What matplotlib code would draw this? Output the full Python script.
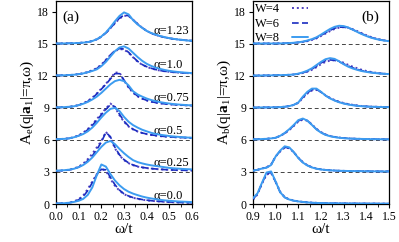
import numpy as np
import matplotlib
matplotlib.use("Agg")
import matplotlib.pyplot as plt
from matplotlib.ticker import MultipleLocator, FormatStrFormatter

plt.rcParams['font.family'] = ['Liberation Serif', 'DejaVu Serif']
plt.rcParams['mathtext.fontset'] = 'custom'
plt.rcParams['mathtext.rm'] = 'Liberation Serif'
plt.rcParams['mathtext.it'] = 'Liberation Serif:italic'
plt.rcParams['mathtext.bf'] = 'Liberation Serif:bold'

# ---------------- data ----------------
omega_a = np.round(np.arange(0.0, 0.6001, 0.02), 3)
omega_b = np.round(np.arange(0.9, 1.5001, 0.02), 3)
alphas = ["0.0", "0.25", "0.5", "0.75", "1.0", "1.23"]
offsets = [0, 3, 6, 9, 12, 15]
legend_labels = ["W=4", "W=6", "W=8"]

# panel (a): A_e, one row per alpha
a_w8 = [
    [0.05,0.06,0.08,0.12,0.2,0.3,0.48,0.85,1.55,2.7,3.7,3.5,2.8,2.2,1.75,1.4,1.15,0.97,0.83,0.7,0.6,0.52,0.45,0.39,0.34,0.3,0.27,0.24,0.22,0.2,0.18],
    [0.12,0.14,0.17,0.22,0.3,0.45,0.65,0.95,1.35,1.85,2.35,2.75,2.9,2.6,2.15,1.75,1.4,1.1,0.92,0.8,0.7,0.62,0.56,0.5,0.44,0.38,0.34,0.31,0.28,0.26,0.24],
    [0.06,0.08,0.1,0.15,0.25,0.38,0.55,0.8,1.15,1.6,2.1,2.55,2.9,3.0,2.7,2.15,1.7,1.38,1.15,0.95,0.8,0.66,0.56,0.48,0.42,0.36,0.32,0.28,0.25,0.22,0.2],
    [0.04,0.05,0.07,0.1,0.15,0.25,0.38,0.55,0.78,1.05,1.4,1.8,2.2,2.5,2.62,2.5,2.1,1.55,1.25,1.05,0.87,0.73,0.62,0.53,0.46,0.4,0.35,0.31,0.28,0.25,0.23],
    [0.03,0.04,0.05,0.07,0.1,0.15,0.22,0.33,0.45,0.6,0.9,1.3,1.8,2.3,2.65,2.75,2.55,2.15,1.75,1.4,1.12,0.92,0.76,0.64,0.54,0.46,0.4,0.35,0.31,0.28,0.25],
    [0.02,0.02,0.03,0.04,0.05,0.07,0.1,0.15,0.25,0.42,0.68,1.05,1.55,2.1,2.6,2.93,2.75,2.2,1.8,1.48,1.2,1.0,0.85,0.72,0.61,0.52,0.45,0.39,0.34,0.3,0.27],
]
a_w6 = [
    [0.05,0.06,0.08,0.12,0.22,0.4,0.7,1.25,2.0,2.75,3.25,3.2,2.5,1.8,1.3,0.95,0.75,0.6,0.5,0.42,0.36,0.31,0.27,0.24,0.21,0.19,0.17,0.15,0.14,0.13,0.12],
    [0.1,0.12,0.15,0.2,0.3,0.45,0.7,1.05,1.5,2.1,2.8,3.7,3.3,2.3,1.6,1.15,0.85,0.65,0.52,0.43,0.37,0.32,0.28,0.25,0.22,0.2,0.18,0.17,0.16,0.15,0.14],
    [0.06,0.08,0.1,0.15,0.25,0.4,0.62,0.95,1.35,1.85,2.35,2.85,3.3,3.1,2.4,1.75,1.3,1.0,0.8,0.65,0.55,0.47,0.41,0.36,0.32,0.29,0.26,0.24,0.22,0.2,0.19],
    [0.04,0.05,0.07,0.1,0.15,0.25,0.4,0.6,0.9,1.3,1.75,2.2,2.7,3.2,3.2,2.6,1.95,1.45,1.1,0.87,0.7,0.58,0.49,0.42,0.37,0.33,0.3,0.27,0.25,0.23,0.21],
    [0.03,0.04,0.05,0.07,0.1,0.15,0.22,0.33,0.48,0.68,1.0,1.45,1.95,2.35,2.55,2.5,2.2,1.75,1.35,1.05,0.85,0.7,0.58,0.49,0.42,0.37,0.33,0.3,0.27,0.25,0.23],
    [0.02,0.02,0.03,0.04,0.05,0.07,0.1,0.15,0.24,0.4,0.65,1.0,1.45,1.95,2.4,2.68,2.62,2.25,1.85,1.5,1.2,0.98,0.82,0.69,0.59,0.51,0.44,0.39,0.35,0.31,0.28],
]
a_w4 = [
    [0.05,0.06,0.08,0.13,0.25,0.45,0.8,1.4,2.1,2.8,3.3,3.1,2.35,1.7,1.25,0.92,0.72,0.58,0.48,0.4,0.34,0.3,0.26,0.23,0.2,0.18,0.16,0.15,0.14,0.13,0.12],
    [0.1,0.12,0.16,0.22,0.33,0.5,0.78,1.2,1.7,2.3,2.9,3.75,3.2,2.2,1.55,1.1,0.82,0.63,0.5,0.42,0.36,0.31,0.27,0.24,0.22,0.2,0.18,0.17,0.16,0.15,0.14],
    [0.06,0.08,0.11,0.16,0.27,0.43,0.68,1.02,1.45,1.95,2.45,2.95,3.4,3.05,2.3,1.68,1.25,0.97,0.78,0.64,0.54,0.46,0.4,0.35,0.31,0.28,0.25,0.23,0.21,0.2,0.18],
    [0.04,0.05,0.07,0.1,0.16,0.27,0.43,0.65,0.95,1.35,1.8,2.25,2.75,3.3,3.3,2.55,1.9,1.4,1.07,0.85,0.69,0.57,0.48,0.42,0.37,0.33,0.3,0.27,0.25,0.23,0.21],
    [0.03,0.04,0.05,0.07,0.1,0.16,0.24,0.36,0.52,0.72,1.05,1.5,1.95,2.3,2.5,2.45,2.15,1.72,1.32,1.03,0.83,0.69,0.57,0.48,0.42,0.37,0.33,0.3,0.27,0.25,0.23],
    [0.02,0.02,0.03,0.04,0.05,0.08,0.11,0.16,0.26,0.42,0.67,1.02,1.45,1.92,2.35,2.62,2.6,2.25,1.85,1.5,1.2,0.98,0.82,0.69,0.59,0.51,0.44,0.39,0.35,0.31,0.28],
]

# panel (b): A_b, one row per alpha
b_w8 = [
    [0.55,1.0,2.0,2.95,3.05,2.1,1.1,0.62,0.42,0.31,0.24,0.19,0.15,0.12,0.1,0.09,0.08,0.07,0.065,0.06,0.055,0.05,0.05,0.045,0.045,0.04,0.04,0.035,0.035,0.03,0.03],
    [0.12,0.2,0.32,0.4,0.65,1.45,2.0,2.4,2.3,1.85,1.3,0.88,0.6,0.42,0.3,0.23,0.18,0.15,0.13,0.11,0.1,0.09,0.08,0.075,0.07,0.065,0.06,0.055,0.05,0.05,0.05],
    [0.05,0.06,0.08,0.1,0.14,0.2,0.38,0.65,1.0,1.4,1.85,2.0,1.8,1.4,0.98,0.68,0.47,0.34,0.26,0.2,0.16,0.13,0.11,0.1,0.09,0.08,0.07,0.065,0.06,0.055,0.05],
    [0.03,0.03,0.04,0.04,0.05,0.05,0.07,0.1,0.16,0.28,0.5,1.05,1.5,1.8,1.8,1.5,1.15,0.88,0.68,0.52,0.4,0.31,0.24,0.19,0.15,0.12,0.1,0.09,0.08,0.07,0.06],
    [0.02,0.02,0.03,0.03,0.04,0.05,0.06,0.07,0.09,0.12,0.2,0.32,0.48,0.7,1.0,1.3,1.55,1.65,1.58,1.35,1.08,0.85,0.68,0.55,0.44,0.36,0.3,0.25,0.21,0.18,0.16],
    [0.02,0.02,0.02,0.02,0.02,0.02,0.03,0.04,0.06,0.09,0.13,0.2,0.3,0.43,0.6,0.85,1.12,1.38,1.58,1.68,1.65,1.52,1.32,1.1,0.9,0.72,0.57,0.45,0.36,0.29,0.24],
]
b_w6 = [
    [0.45,0.95,1.95,2.85,2.95,2.05,1.1,0.62,0.42,0.31,0.24,0.19,0.15,0.12,0.1,0.09,0.08,0.07,0.065,0.06,0.055,0.05,0.05,0.045,0.045,0.04,0.04,0.035,0.035,0.03,0.03],
    [0.12,0.2,0.32,0.42,0.68,1.45,1.95,2.3,2.25,1.85,1.32,0.9,0.62,0.43,0.31,0.24,0.19,0.15,0.13,0.11,0.1,0.09,0.08,0.075,0.07,0.065,0.06,0.055,0.05,0.05,0.05],
    [0.05,0.06,0.08,0.1,0.14,0.2,0.38,0.62,0.95,1.35,1.78,1.95,1.8,1.42,1.0,0.7,0.49,0.36,0.27,0.21,0.17,0.14,0.12,0.1,0.09,0.08,0.07,0.065,0.06,0.055,0.05],
    [0.03,0.03,0.04,0.04,0.05,0.05,0.07,0.1,0.16,0.28,0.48,0.98,1.4,1.7,1.72,1.48,1.15,0.9,0.7,0.54,0.42,0.33,0.26,0.2,0.16,0.13,0.11,0.1,0.09,0.08,0.07],
    [0.02,0.02,0.03,0.03,0.04,0.05,0.06,0.07,0.09,0.12,0.18,0.28,0.42,0.62,0.9,1.2,1.42,1.48,1.45,1.32,1.12,0.92,0.75,0.6,0.48,0.39,0.32,0.26,0.22,0.19,0.16],
    [0.02,0.02,0.02,0.02,0.02,0.02,0.03,0.04,0.06,0.08,0.12,0.18,0.27,0.39,0.55,0.78,1.02,1.25,1.45,1.55,1.55,1.48,1.32,1.12,0.93,0.76,0.6,0.48,0.38,0.3,0.25],
]
b_w4 = [
    [0.4,0.9,1.9,2.75,2.9,2.1,1.15,0.65,0.43,0.32,0.25,0.2,0.16,0.13,0.11,0.09,0.08,0.07,0.065,0.06,0.055,0.05,0.05,0.045,0.045,0.04,0.04,0.035,0.035,0.03,0.03],
    [0.12,0.2,0.33,0.43,0.7,1.45,1.92,2.28,2.22,1.85,1.33,0.92,0.63,0.44,0.32,0.24,0.19,0.15,0.13,0.11,0.1,0.09,0.08,0.075,0.07,0.065,0.06,0.055,0.05,0.05,0.05],
    [0.05,0.06,0.08,0.1,0.14,0.2,0.38,0.6,0.92,1.3,1.72,1.9,1.8,1.45,1.04,0.73,0.51,0.37,0.28,0.22,0.17,0.14,0.12,0.1,0.09,0.08,0.07,0.065,0.06,0.055,0.05],
    [0.03,0.03,0.04,0.04,0.05,0.05,0.07,0.1,0.16,0.27,0.46,0.92,1.33,1.62,1.68,1.48,1.18,0.93,0.73,0.57,0.45,0.35,0.28,0.22,0.17,0.14,0.12,0.1,0.09,0.08,0.07],
    [0.02,0.02,0.03,0.03,0.04,0.05,0.06,0.07,0.09,0.12,0.17,0.26,0.38,0.56,0.8,1.08,1.3,1.42,1.45,1.38,1.22,1.02,0.85,0.7,0.56,0.45,0.36,0.29,0.23,0.19,0.16],
    [0.02,0.02,0.02,0.02,0.02,0.02,0.03,0.04,0.05,0.07,0.11,0.16,0.24,0.35,0.5,0.72,0.95,1.18,1.38,1.5,1.55,1.5,1.36,1.18,0.98,0.8,0.63,0.5,0.39,0.31,0.25],
]

# ---------------- styles ----------------
c_w4 = '#5040c0'
c_w6 = '#1a2cc0'
c_w8 = '#3c9cf0'
styles = [
    dict(color=c_w4, ls=(0, (1, 1.5)), lw=1.4),
    dict(color=c_w6, ls=(0, (4, 2)), lw=1.2),
    dict(color=c_w8, ls='-', lw=1.4),
]
label_raise = [0.75, 0.8, 0.85, 0.95, 1.05, 1.2]

fig = plt.figure(figsize=(3.99, 2.42), dpi=100)
ax_a = fig.add_axes([0.1404, 0.157, 0.3409, 0.839])
ax_b = fig.add_axes([0.634, 0.157, 0.3409, 0.839])

def draw(ax, omega, series, xlim, xmajor):
    for off in offsets[1:]:
        ax.axhline(off, color='#444444', ls=(0, (4, 3)), lw=0.7, zorder=1)
    handles = []
    for si, data in enumerate(series):
        for k, row in enumerate(data):
            h, = ax.plot(omega, np.array(row) + offsets[k], zorder=2 + si,
                         solid_capstyle='round', **styles[si])
        handles.append(h)
    ax.set_xlim(*xlim)
    ax.set_ylim(0, 19)
    ax.xaxis.set_major_locator(MultipleLocator(xmajor))
    ax.xaxis.set_minor_locator(MultipleLocator(xmajor / 2))
    ax.xaxis.set_major_formatter(FormatStrFormatter('%.1f'))
    ax.yaxis.set_major_locator(MultipleLocator(3))
    ax.tick_params(which='major', direction='out', length=3, width=0.8, labelsize=8.5, pad=2)
    ax.tick_params(which='minor', direction='out', length=2, width=0.6)
    for s in ax.spines.values():
        s.set_linewidth(0.9)
    ax.set_xlabel('ω/t', fontsize=11, labelpad=0)
    return handles

draw(ax_a, omega_a, [a_w4, a_w6, a_w8], (0.0, 0.6), 0.1)
handles = draw(ax_b, omega_b, [b_w4, b_w6, b_w8], (0.9, 1.5), 0.1)

ax_a.set_ylabel(r'A$_\mathrm{e}$(q|$\mathbf{a}_\mathrm{1}$|=π,ω)', fontsize=11, labelpad=1)
ax_b.set_ylabel(r'A$_\mathrm{b}$(q|$\mathbf{a}_\mathrm{1}$|=π,ω)', fontsize=11, labelpad=1)

for k, a in enumerate(alphas):
    ax_a.text(0.432, offsets[k] + label_raise[k], 'α=' + a, fontsize=9,
              ha='left', va='center')

ax_a.text(0.03, 17.5, '(a)', fontsize=11, ha='left', va='center')
ax_b.text(1.38, 17.5, '(b)', fontsize=11, ha='left', va='center')

ax_b.legend(handles, legend_labels, loc='upper left', frameon=False,
            markerfirst=False, fontsize=9, handlelength=1.3,
            handletextpad=0.9, labelspacing=0.2, borderaxespad=0.1,
            borderpad=0.1)

fig.savefig('out.png', dpi=100)
